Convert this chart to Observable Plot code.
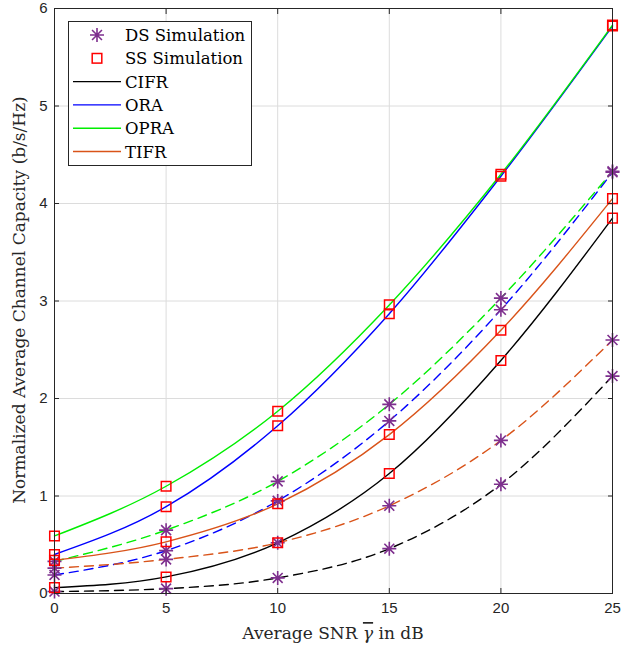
<!DOCTYPE html>
<html>
<head>
<meta charset="utf-8">
<script src="https://cdn.jsdelivr.net/npm/d3@7"></script>
<script src="https://cdn.jsdelivr.net/npm/@observablehq/plot@0.6"></script>
<style>
  body { margin: 0; background: #fff; }
  #wrap { position: relative; width: 621px; height: 650px; }
  #legend { position: absolute; left: 68px; top: 21px; }
</style>
</head>
<body>
<div id="wrap"><div id="chart"></div><div id="legend"></div></div>
<script>
// ---- data ----
const snrDb = [0, 5, 10, 15, 20, 25];
const xTicks = [0, 5, 10, 15, 20, 25];
const yTicks = [0, 1, 2, 3, 4, 5, 6];

// single-sided (solid lines, square markers)
const ssCIFR = [0.06, 0.17, 0.52, 1.23, 2.39, 3.85];
const ssORA  = [0.40, 0.89, 1.72, 2.87, 4.28, 5.82];
const ssOPRA = [0.59, 1.10, 1.87, 2.96, 4.30, 5.83];
const ssTIFR = [0.34, 0.53, 0.92, 1.63, 2.70, 4.05];

// double-sided (dashed lines, asterisk markers)
const dsCIFR = [0.02, 0.05, 0.16, 0.46, 1.12, 2.23];
const dsORA  = [0.19, 0.44, 0.95, 1.77, 2.91, 4.32];
const dsOPRA = [0.33, 0.65, 1.15, 1.94, 3.03, 4.33];
const dsTIFR = [0.26, 0.35, 0.52, 0.90, 1.57, 2.60];

const seriesNames = ["CIFR", "ORA", "OPRA", "TIFR"];
const seriesColors = ["#000000", "#0000ff", "#00ee00", "#d95319"];
const ssSets = [ssCIFR, ssORA, ssOPRA, ssTIFR];
const dsSets = [dsCIFR, dsORA, dsOPRA, dsTIFR];

const legendLabels = ["DS Simulation", "SS Simulation", ...seriesNames];

// ---- tables ----
const ssRows = [], dsRows = [];
seriesNames.forEach((name, i) => {
  snrDb.forEach((x, j) => {
    ssRows.push({name, x, y: ssSets[i][j]});
    dsRows.push({name, x, y: dsSets[i][j]});
  });
});

const asterisk8 = {
  draw(ctx, size) {
    const r = Math.sqrt(size / Math.PI);
    const d = r * Math.SQRT1_2;
    ctx.moveTo(-r, 0); ctx.lineTo(r, 0);
    ctx.moveTo(0, -r); ctx.lineTo(0, r);
    ctx.moveTo(-d, -d); ctx.lineTo(d, d);
    ctx.moveTo(-d, d); ctx.lineTo(d, -d);
  }
};

const colorScale = {domain: seriesNames, range: seriesColors};
const sans = "'Liberation Sans', Arial, sans-serif";
const serif = "'DejaVu Serif', 'Liberation Serif', serif";

const chart = Plot.plot({
  width: 621,
  height: 650,
  marginLeft: 54,
  marginRight: 9,
  marginTop: 8,
  marginBottom: 57,
  style: {fontFamily: sans, fontSize: "15px", color: "#262626", background: "#fff"},
  x: {domain: [0, 25], ticks: xTicks, label: null},
  y: {domain: [0, 6], ticks: yTicks, label: null},
  color: colorScale,
  marks: [
    Plot.gridX(xTicks, {stroke: "#dcdcdc", strokeOpacity: 1, strokeWidth: 1}),
    Plot.gridY(yTicks, {stroke: "#dcdcdc", strokeOpacity: 1, strokeWidth: 1}),
    Plot.line(dsRows, {x: "x", y: "y", z: "name", stroke: "name", curve: "monotone-x", strokeWidth: 1.4, strokeDasharray: "9,6"}),
    Plot.line(ssRows, {x: "x", y: "y", z: "name", stroke: "name", curve: "monotone-x", strokeWidth: 1.4}),
    Plot.dot(dsRows, {x: "x", y: "y", symbol: asterisk8, r: 7, stroke: "#7e2f8e", strokeWidth: 1.6, fill: "none"}),
    Plot.dot(ssRows, {x: "x", y: "y", symbol: "square", r: 5.4, stroke: "#ff0000", strokeWidth: 1.5, fill: "none"}),
    Plot.axisX({ticks: xTicks, tickSize: -5, tickPadding: 14, tickFormat: d3.format("d"), stroke: "#262626", fontSize: 15}),
    Plot.axisY({ticks: yTicks, tickSize: -5, tickPadding: 12, tickFormat: d3.format("d"), stroke: "#262626", fontSize: 15}),
    Plot.axisX({anchor: "top", ticks: xTicks, tickSize: -5, tickFormat: () => "", label: null, stroke: "#262626"}),
    Plot.axisY({anchor: "right", ticks: yTicks, tickSize: -5, tickFormat: () => "", label: null, stroke: "#262626"}),
    Plot.frame({stroke: "#262626", strokeWidth: 1})
  ]
});
document.getElementById("chart").appendChild(chart);

// axis titles
const svg = d3.select(chart);
const xt = svg.append("text")
  .attr("x", (54 + 612) / 2).attr("y", 639)
  .attr("text-anchor", "middle")
  .attr("font-family", serif).attr("font-size", 17).attr("fill", "#262626");
xt.append("tspan").text("Average SNR ");
xt.append("tspan").attr("font-style", "italic").attr("text-decoration", "overline").text("γ");
xt.append("tspan").text(" in dB");

svg.append("text")
  .attr("transform", `translate(25, 300) rotate(-90)`)
  .attr("text-anchor", "middle")
  .attr("font-family", serif).attr("font-size", 17).attr("fill", "#262626")
  .text("Normalized Average Channel Capacity (b/s/Hz)");

// legend
const lw = 183, lh = 144, rowH = 23.3, row0 = 14;
const lg = d3.select("#legend").append("svg").attr("width", lw + 2).attr("height", lh + 2);
lg.append("rect").attr("x", 0.5).attr("y", 0.5).attr("width", lw).attr("height", lh)
  .attr("fill", "#fff").attr("stroke", "#262626").attr("stroke-width", 1);
legendLabels.forEach((lab, i) => {
  const cy = row0 + i * rowH;
  const g = lg.append("g");
  if (i === 0) {
    const r = 7, d = r * Math.SQRT1_2, cx = 29;
    g.append("path").attr("d", `M${cx - r},${cy}L${cx + r},${cy}M${cx},${cy - r}L${cx},${cy + r}M${cx - d},${cy - d}L${cx + d},${cy + d}M${cx - d},${cy + d}L${cx + d},${cy - d}`)
      .attr("stroke", "#7e2f8e").attr("stroke-width", 1.6).attr("fill", "none");
  } else if (i === 1) {
    g.append("rect").attr("x", 29 - 4.8).attr("y", cy - 4.8).attr("width", 9.6).attr("height", 9.6)
      .attr("stroke", "#ff0000").attr("stroke-width", 1.5).attr("fill", "none");
  } else {
    g.append("line").attr("x1", 5).attr("x2", 53).attr("y1", cy).attr("y2", cy)
      .attr("stroke", seriesColors[i - 2]).attr("stroke-width", 1.4);
  }
  g.append("text").attr("x", 57).attr("y", cy + 6)
    .attr("font-family", serif).attr("font-size", 16.5).attr("fill", "#000").text(lab);
});
</script>
</body>
</html>
